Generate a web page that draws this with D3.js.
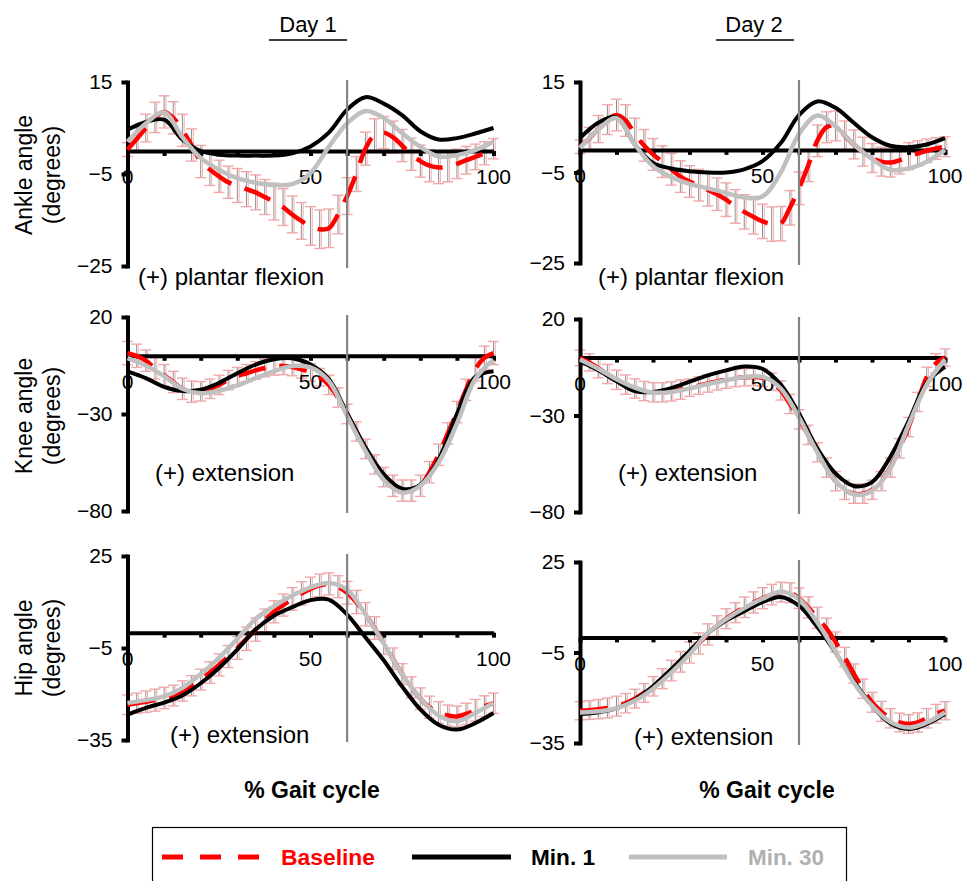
<!DOCTYPE html>
<html><head><meta charset="utf-8">
<script src="https://cdn.jsdelivr.net/npm/d3@7"></script>
<style>
body{margin:0;background:#fff}
svg{display:block}
text{font-family:"Liberation Sans",Arial,Helvetica,sans-serif;fill:#000}
</style>
</head><body>
<svg id="c" width="970" height="881"></svg>
<script>
// ---------- categories / ticks ----------
const pct5 = [0,5,10,15,20,25,30,35,40,45,50,55,60,65,70,75,80,85,90,95,100];
const pct25 = [0,2.5,5,7.5,10,12.5,15,17.5,20,22.5,25,27.5,30,32.5,35,37.5,40,42.5,45,47.5,50,52.5,55,57.5,60,62.5,65,67.5,70,72.5,75,77.5,80,82.5,85,87.5,90,92.5,95,97.5,100];
const dayTitles = ["Day 1","Day 2"];
const rowLabels = ["Ankle angle","Knee angle","Hip angle"];
const unitLabel = "(degrees)";
const annotations = ["(+) plantar flexion","(+) extension","(+) extension"];
const yTickValues = [[15,-5,-25],[20,-30,-80],[25,-5,-35]];
const yDomains = [[-25,15],[-80,20],[-35,25]];
const xTickLabels = [0,50,100];
const xTickMarks = [0,10,20,30,40,50,60,70,80,90,100];
const toeOff = 60;
const xTitle = "% Gait cycle";
const seriesNames = ["Baseline","Min. 1","Min. 30"];

// ---------- Ankle ----------
const ankleD1Base = [0.3,2.6,5,7.3,8.5,7.2,4.5,1.3,-2.3,-4,-5.5,-6.8,-7.5,-8.3,-9,-10,-11,-12.2,-13.8,-15.2,-16.3,-17,-16.8,-13.8,-9.8,-5,0.5,3.5,4,3,1.2,-0.7,-2.2,-3.2,-3.6,-3.4,-2.8,-2,-1.3,-0.5,0.5];
const ankleD1SD = [1.5,2.5,3,3.3,3.5,3.5,3.5,3.5,3.5,3.5,3.5,3.5,3.7,3.8,3.8,3.8,4,4,4,4,4.2,4.2,4.2,4.2,4,3.8,3.6,3.5,3.5,3.5,3.5,3.5,3.5,3.5,3.5,3.3,3.2,3,2.8,2.5,2.2];
const ankleD1Min1 = [4.6,6.3,6.8,2.5,0,-0.8,-1,-1,-1,-0.5,1,4,9,11.7,10.3,7.8,4.3,2.5,2.8,3.8,5];
const ankleD1Min30 = [2,6,8.4,3,-1.5,-4.1,-5.9,-6.9,-7.4,-7.2,-4.8,0.9,6,8.7,7.2,3.9,0.9,-1.2,-0.9,0.2,2];

const ankleD2Base = [0.7,2.5,4.6,6.7,7.7,6.5,3.5,1,-1,-2.6,-4.3,-5.9,-7,-7.8,-8.8,-9.8,-11,-12.5,-13.7,-14.8,-15.8,-16.4,-16.3,-12.8,-8.5,-3.5,2,5,5.3,3.2,1.2,-0.4,-1.8,-2.6,-2.8,-2.3,-1.4,-0.8,-0.2,0.3,0.7];
const ankleD2SD = [1.5,2.5,3,3.3,3.5,3.5,3.5,3.5,3.5,3.5,3.5,3.5,3.5,3.5,3.6,3.6,3.7,3.7,3.8,3.8,3.8,3.8,3.8,3.8,3.6,3.5,3.5,3.4,3.3,3.2,3.2,3.2,3.2,3.2,3.2,3,3,2.8,2.6,2.4,2.2];
const ankleD2Min1 = [2.6,6,7.2,1.2,-2.9,-4.1,-4.7,-5,-5,-4.3,-2.5,1.5,7.7,10.7,9.3,6,2.8,0.9,0.6,1.2,2.6];
const ankleD2Min30 = [0.4,4.5,7,1.2,-3.6,-6,-7.5,-8.5,-9.5,-10.5,-10.3,-5,3.5,7.6,5.2,1.2,-2,-4.4,-4.1,-2.6,0];

// ---------- Knee ----------
const kneeD1Base = [1.4,0,-2.5,-6.5,-10,-13.5,-17,-18.5,-18.3,-17,-15,-12.5,-10.5,-9,-7.5,-6.3,-5.5,-5.2,-5.8,-7,-8.5,-11,-15,-21.5,-30,-39,-48,-56,-62.5,-67,-69.5,-69.5,-67,-60,-51,-40,-29,-17.5,-7,-1,1.4];
const kneeD1SD = [6,6,5.5,5.5,5.5,5.5,5.5,5.5,5,5,5,5,4.5,4.5,4.5,4.5,4.5,4.5,4.5,4.5,4.5,4.5,5,5,5,5,5,5,5,5.5,5.5,5.5,5.5,5.5,5.5,5.5,5.5,5.5,6,6,6];
const kneeD1Min1 = [-8,-11.5,-16,-18.2,-17.5,-14,-9,-4.5,-1.8,-1.3,-4.5,-12,-29.6,-47,-61,-68.5,-66.5,-53.5,-30,-11,-8];
const kneeD1Min30 = [-1.2,-5,-10.5,-17,-19.3,-18,-15.3,-11.5,-8,-5.3,-6,-13,-31,-49,-64,-70.5,-67,-55,-35,-12,-2];

const kneeD2Base = [-0.2,-2.5,-5.5,-8.5,-11.5,-14,-16,-17.3,-18,-18,-17.5,-16.6,-15.6,-14.5,-13.4,-12.3,-11.4,-10.6,-10.2,-10,-10.5,-12.5,-17,-24,-32,-40,-49,-57,-64,-68.5,-70.5,-70.5,-68.5,-64,-57,-47,-36,-23,-10,-3,0];
const kneeD2SD = [4,4.5,5,5,5,5,5,5,5,5,5,5,4.5,4.5,4.5,4.5,4.5,4.5,4.5,4.5,4.5,4.5,5,5,5,5,5,5,5,5,5,5,5,5,5,5,5,5,5,5,4.5];
const kneeD2Min1 = [-1.9,-6.6,-12.3,-17.4,-17.8,-15.8,-12.5,-9.2,-6.6,-4.6,-5.8,-14,-29,-47,-60,-66.5,-64.5,-51.5,-33,-13,-4.8];
const kneeD2Min30 = [-1,-5.8,-11.2,-15.5,-18.1,-17.8,-16,-13.7,-11.7,-10.2,-10,-16,-31,-49,-64,-70.8,-69,-57.4,-35,-14,-1];

// ---------- Hip ----------
const hipD1Base = [-23.5,-23,-22.5,-22,-21.3,-20.5,-19,-17.3,-15.3,-13,-10.5,-7.8,-5,-2,1,4,6.8,9,11,12.8,14.3,15.4,15.9,15,13,10,6,1.5,-3.5,-8.5,-13.5,-17.8,-21.5,-24.3,-26,-27,-27.3,-26.5,-25.3,-24,-23];
const hipD1SD = [3.2,3.3,3.5,3.6,3.5,3.4,3.3,3.3,3.4,3.5,3.6,3.6,3.7,3.8,3.8,3.7,3.6,3.6,3.7,3.8,3.8,3.7,3.6,3.6,3.7,3.8,3.8,3.7,3.6,3.5,3.4,3.4,3.5,3.6,3.5,3.4,3.4,3.5,3.5,3.4,3.3];
const hipD1Min1 = [-26.7,-24.5,-22.8,-20.5,-16.5,-11.5,-5.5,1,5.5,8.3,10.6,10.8,5.9,-1.5,-9,-17.5,-25,-30,-31.6,-29.5,-26.2];
const hipD1Min30 = [-22.9,-22,-20.8,-18,-13.5,-8.2,-2,4.5,8.6,12.1,14.8,16.2,14,6,-3.5,-13.5,-21.5,-27,-28.9,-26.2,-22.9];

const hipD2Base = [-24.3,-24.1,-23.8,-23.4,-22.8,-21.8,-20.3,-18.4,-16.2,-13.7,-11,-8.1,-5,-2,1,3.8,6.2,8.2,10,11.6,13,14.2,15,14.8,13,10,6.5,3,-1.5,-6.5,-12,-17,-21.5,-24.5,-26.8,-28.2,-28.7,-28.2,-26.8,-25.3,-24.3];
const hipD2SD = [3,3.1,3.2,3.3,3.3,3.2,3.1,3.1,3.2,3.3,3.4,3.4,3.5,3.5,3.5,3.4,3.3,3.3,3.4,3.5,3.5,3.4,3.3,3.3,3.4,3.5,3.5,3.4,3.3,3.2,3.2,3.2,3.3,3.3,3.2,3.1,3.1,3.2,3.2,3.1,3];
const hipD2Min1 = [-25.4,-24.8,-23.5,-20.7,-16.2,-10.5,-4.5,1.4,5.6,8.7,11.7,13.4,10.5,3.5,-5,-14.5,-22.6,-28.5,-30.4,-28.7,-25.4];
const hipD2Min30 = [-24.9,-24.5,-23.5,-21,-17,-11.7,-5.6,1.4,6,9.7,12.8,15.1,12.7,5,-4.8,-15,-22.6,-28,-29.9,-28.2,-24.9];

// ---------- assemble ----------
const panelData = [
  [{base:ankleD1Base, sd:ankleD1SD, m1:ankleD1Min1, m30:ankleD1Min30},
   {base:ankleD2Base, sd:ankleD2SD, m1:ankleD2Min1, m30:ankleD2Min30}],
  [{base:kneeD1Base, sd:kneeD1SD, m1:kneeD1Min1, m30:kneeD1Min30},
   {base:kneeD2Base, sd:kneeD2SD, m1:kneeD2Min1, m30:kneeD2Min30}],
  [{base:hipD1Base, sd:hipD1SD, m1:hipD1Min1, m30:hipD1Min30},
   {base:hipD2Base, sd:hipD2SD, m1:hipD2Min1, m30:hipD2Min30}]
];

// ---------- layout ----------
const cols = [{x0:127.5, x1:493.5, titleX:308, ulX0:269, ulX1:347, gaitX:312},
              {x0:580, x1:945, titleX:754, ulX0:716, ulX1:794, gaitX:767}];
const rowBox = [
  [{top:82,bottom:266},{top:82,bottom:263}],
  [{top:317,bottom:511},{top:319,bottom:512}],
  [{top:556,bottom:740},{top:562,bottom:743}]
];
const rowTitleY = [175, 416, 648];
const annotPos = [[[138,277],[598,277]],[[155,473],[618,473]],[[170,735],[634,737]]];
const colors = {base:"#ff0000", m1:"#000000", m30:"#c0c0c0"};

const svg = d3.select("#c");

// Day titles
cols.forEach((c,i)=>{
  svg.append("text").attr("x",c.titleX).attr("y",24).attr("dy","0.35em")
    .attr("text-anchor","middle").style("font-size","22px").text(dayTitles[i]);
  svg.append("line").attr("x1",c.ulX0).attr("x2",c.ulX1).attr("y1",40).attr("y2",40)
    .attr("stroke","#000").attr("stroke-width",1.6);
  svg.append("text").attr("x",c.gaitX).attr("y",790).attr("dy","0.35em")
    .attr("text-anchor","middle").style("font-size","23px").style("font-weight","bold").text(xTitle);
});

// row titles
rowLabels.forEach((lab,r)=>{
  svg.append("text").attr("transform",`translate(24,${rowTitleY[r]}) rotate(-90)`)
    .attr("text-anchor","middle").attr("dy","0.35em").style("font-size","23px").text(lab);
  svg.append("text").attr("transform",`translate(52,${rowTitleY[r]}) rotate(-90)`)
    .attr("text-anchor","middle").attr("dy","0.35em").style("font-size","23px").text(unitLabel);
});

const curve = d3.curveCatmullRom.alpha(0.5);

panelData.forEach((row,r)=>{
  row.forEach((pd,c)=>{
    const col = cols[c], box = rowBox[r][c];
    const x = d3.scaleLinear().domain([0,100]).range([col.x0,col.x1]);
    const y = d3.scaleLinear().domain(yDomains[r]).range([box.bottom,box.top]);
    const g = svg.append("g");

    // error bars for baseline
    const eb = pct25.map((p,i)=>({p, m:pd.base[i], s:pd.sd[i]}));
    const ebg = g.append("g");
    ebg.selectAll(".stemP").data(eb).join("line")
      .attr("x1",d=>x(d.p)+1.8).attr("x2",d=>x(d.p)+1.8)
      .attr("y1",d=>y(d.m-d.s)).attr("y2",d=>y(d.m+d.s))
      .attr("stroke","#f5b8b8").attr("stroke-width",1.2);
    ebg.selectAll(".stemG").data(eb).join("line")
      .attr("x1",d=>x(d.p)).attr("x2",d=>x(d.p))
      .attr("y1",d=>y(d.m-d.s)).attr("y2",d=>y(d.m+d.s))
      .attr("stroke","#8f8f8f").attr("stroke-width",1);
    ebg.selectAll(".capT").data(eb).join("line")
      .attr("x1",d=>x(d.p)-5.5).attr("x2",d=>x(d.p)+5.5)
      .attr("y1",d=>y(d.m+d.s)).attr("y2",d=>y(d.m+d.s))
      .attr("stroke","#f2a8a8").attr("stroke-width",1.4);
    ebg.selectAll(".capB").data(eb).join("line")
      .attr("x1",d=>x(d.p)-5.5).attr("x2",d=>x(d.p)+5.5)
      .attr("y1",d=>y(d.m-d.s)).attr("y2",d=>y(d.m-d.s))
      .attr("stroke","#f2a8a8").attr("stroke-width",1.4);

    // zero line with ticks
    const xa = g.append("g").attr("transform",`translate(0,${y(0)})`)
      .call(d3.axisBottom(x).tickValues(xTickMarks).tickSize(5).tickSizeOuter(0).tickFormat(""));
    xa.select(".domain").attr("stroke","#000").attr("stroke-width",4);
    xa.selectAll(".tick line").attr("stroke","#000").attr("stroke-width",4);

    // y axis
    const ya = g.append("g").attr("transform",`translate(${col.x0},0)`)
      .call(d3.axisLeft(y).tickValues(yTickValues[r]).tickSize(6).tickSizeOuter(0).tickPadding(9));
    ya.select(".domain").attr("stroke","#000").attr("stroke-width",4).attr("stroke-linecap","square");
    ya.selectAll(".tick line").attr("stroke","#000").attr("stroke-width",4);
    ya.selectAll(".tick text").style("font-size","21px").attr("fill","#000")
      .style("font-family","'Liberation Sans',Arial,sans-serif");

    // x tick labels
    g.selectAll(".xl").data(xTickLabels).join("text")
      .attr("x",d=>x(d)).attr("y",y(0)+26).attr("dy","0.35em")
      .attr("text-anchor","middle").style("font-size","21px").text(d=>d);

    // lines
    const lb = d3.line().x((d,i)=>x(pct25[i])).y(d=>y(d)).curve(curve);
    const l5 = d3.line().x((d,i)=>x(pct5[i])).y(d=>y(d)).curve(curve);
    g.append("path").attr("d",lb(pd.base)).attr("fill","none")
      .attr("stroke",colors.base).attr("stroke-width",4.5).attr("stroke-dasharray","28,14");
    g.append("path").attr("d",l5(pd.m1)).attr("fill","none")
      .attr("stroke",colors.m1).attr("stroke-width",4);
    g.append("path").attr("d",l5(pd.m30)).attr("fill","none")
      .attr("stroke",colors.m30).attr("stroke-width",4.5);

    // toe-off line
    g.append("line").attr("x1",x(toeOff)).attr("x2",x(toeOff))
      .attr("y1",box.top-2).attr("y2",box.bottom+2)
      .attr("stroke","#858585").attr("stroke-width",2.2);

    // annotation
    g.append("text").attr("x",annotPos[r][c][0]).attr("y",annotPos[r][c][1]).attr("dy","0.35em")
      .style("font-size","24px").text(annotations[r]);
  });
});

// ---------- legend ----------
const lg = svg.append("g");
lg.append("rect").attr("x",152.5).attr("y",827.5).attr("width",694).attr("height",80)
  .attr("fill","#fff").attr("stroke","#000").attr("stroke-width",1.2);
const legItems = [
  {name:seriesNames[0], color:"#ff0000", x0:162, x1:261, dash:"21,17", w:5, tx:281, tw:94},
  {name:seriesNames[1], color:"#000000", x0:412, x1:511, dash:null, w:5, tx:531, tw:64},
  {name:seriesNames[2], color:"#c0c0c0", x0:629, x1:727, dash:null, w:5, tx:748, tw:76}
];
legItems.forEach(it=>{
  const ln = lg.append("line").attr("x1",it.x0).attr("x2",it.x1).attr("y1",857).attr("y2",857)
    .attr("stroke",it.color).attr("stroke-width",it.w);
  if(it.dash) ln.attr("stroke-dasharray",it.dash);
  lg.append("text").attr("x",it.tx).attr("y",857).attr("dy","0.35em")
    .style("font-size","22px").style("font-weight","bold")
    .attr("textLength",it.tw).attr("lengthAdjust","spacingAndGlyphs")
    .style("fill", it.color === "#c0c0c0" ? "#b0b0b0" : it.color).text(it.name);
});
</script>
</body></html>
